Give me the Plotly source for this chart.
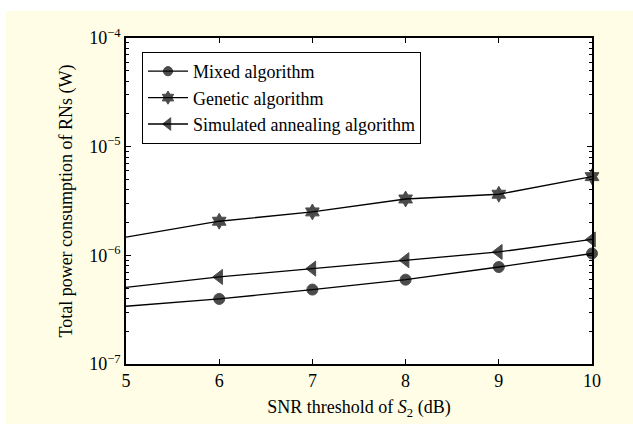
import plotly.graph_objects as go

snr_db = [5, 6, 7, 8, 9, 10]
mixed = [3.40e-7, 3.97e-7, 4.84e-7, 5.97e-7, 7.81e-7, 1.04e-6]
genetic = [1.47e-6, 2.06e-6, 2.51e-6, 3.30e-6, 3.65e-6, 5.30e-6]
annealing = [5.08e-7, 6.33e-7, 7.55e-7, 9.02e-7, 1.074e-6, 1.40e-6]
names = ["Mixed algorithm", "Genetic algorithm", "Simulated annealing algorithm"]
symbols = ["circle", "hexagram", "triangle-left"]
y_tickvals = [1e-7, 1e-6, 1e-5, 1e-4]
y_ticktext = ["10<sup>−7</sup>", "10<sup>−6</sup>", "10<sup>−5</sup>", "10<sup>−4</sup>"]

FONT = "'Liberation Serif', 'Times New Roman', Times, serif"
W, H = 633, 426
L, R, T, B = 126, 41, 38, 62
pw, ph = W - L - R, H - T - B

fig = go.Figure()
for name, ys, sym in zip(names, [mixed, genetic, annealing], symbols):
    msize = {"circle": 11, "hexagram": 12, "triangle-left": 13}[sym]
    fig.add_trace(go.Scatter(
        x=snr_db, y=ys, name=name, mode="lines+markers",
        line=dict(color="black", width=1.3),
        marker=dict(symbol=sym, color="black", size=[0] + [msize] * (len(snr_db) - 1),
                    line=dict(width=1, color="black")),
        cliponaxis=False,
    ))

minor_vals = [m * 10 ** k for k in range(-7, -4) for m in range(2, 10)]

def px2paper_x(p):
    return (p - L) / pw

def px2paper_y(p):
    return (H - B - p) / ph

fig.update_layout(
    width=W, height=H,
    margin=dict(l=L, r=R, t=T, b=B),
    paper_bgcolor="white", plot_bgcolor="rgba(0,0,0,0)",
    font=dict(family=FONT, size=18, color="black"),
    showlegend=True,
    legend=dict(
        x=px2paper_x(142), y=px2paper_y(52), xanchor="left", yanchor="top",
        bgcolor="white", bordercolor="black", borderwidth=1,
        font=dict(family=FONT, size=18), tracegroupgap=0,
        itemwidth=40,
    ),
    shapes=[
        dict(type="rect", xref="paper", yref="paper", layer="below",
             x0=px2paper_x(6), x1=px2paper_x(633), y0=px2paper_y(424), y1=px2paper_y(11),
             fillcolor="#FFFDE6", line=dict(width=0)),
        dict(type="rect", xref="paper", yref="paper", layer="below",
             x0=0, x1=1, y0=0, y1=1, fillcolor="white", line=dict(width=0)),
    ],
    xaxis=dict(
        range=[5, 10], tickvals=[5, 6, 7, 8, 9, 10],
        ticks="inside", ticklen=5, tickcolor="black",
        showline=True, linecolor="black", linewidth=1.5, mirror="ticks",
        showgrid=False, zeroline=False,
        tickfont=dict(family=FONT, size=18),
        title=dict(text="SNR threshold of <i>S</i><sub>2</sub> (dB)",
                   font=dict(family=FONT, size=18), standoff=10),
    ),
    yaxis=dict(
        type="log", range=[-7, -4], tickvals=y_tickvals, ticktext=y_ticktext,
        ticks="inside", ticklen=5, tickcolor="black",
        showline=True, linecolor="black", linewidth=1.5, mirror="ticks",
        showgrid=False, zeroline=False,
        tickfont=dict(family=FONT, size=18),
        minor=dict(tickvals=minor_vals, ticks="inside", ticklen=3, tickcolor="black", showgrid=False),
        title=dict(text="Total power consumption of RNs (W)",
                   font=dict(family=FONT, size=18), standoff=12),
    ),
)

fig.write_html("out.html")
